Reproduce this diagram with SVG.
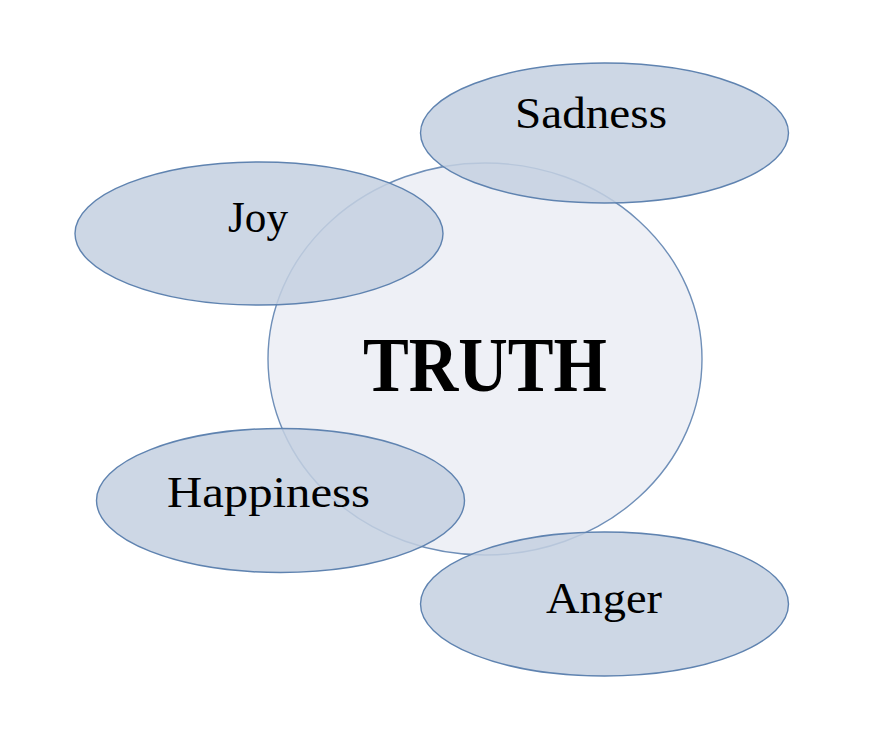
<svg xmlns="http://www.w3.org/2000/svg" width="891" height="741" viewBox="0 0 891 741">
<style>
.ov{fill:#c4d0e1;fill-opacity:0.85;stroke:#5f83b0;stroke-width:1.4}
.lbl{font-family:"Liberation Serif","DejaVu Serif",serif;font-size:45px;fill:#000;text-anchor:start}
</style>
<rect width="891" height="741" fill="#ffffff"/>
<g id="truth">
<ellipse cx="485" cy="359" rx="217" ry="196" fill="#eef0f6" stroke="#6f8fb8" stroke-width="1.4"/>
<text x="363" y="391" font-family="'Liberation Serif','DejaVu Serif',serif" font-size="78" font-weight="bold" textLength="244" lengthAdjust="spacingAndGlyphs">TRUTH</text>
</g>
<g id="sadness">
<ellipse class="ov" cx="604.5" cy="133" rx="184" ry="70"/>
<text class="lbl" x="515" y="128" textLength="152" lengthAdjust="spacingAndGlyphs">Sadness</text>
</g>
<g id="joy">
<ellipse class="ov" cx="259" cy="233.5" rx="184" ry="71.5"/>
<text class="lbl" x="228" y="232" textLength="60" lengthAdjust="spacingAndGlyphs">Joy</text>
</g>
<g id="happiness">
<ellipse class="ov" cx="280.5" cy="500.5" rx="184" ry="72"/>
<text class="lbl" x="167" y="507" textLength="203" lengthAdjust="spacingAndGlyphs">Happiness</text>
</g>
<g id="anger">
<ellipse class="ov" cx="604.5" cy="604" rx="184" ry="72"/>
<text class="lbl" x="546" y="613" textLength="116" lengthAdjust="spacingAndGlyphs">Anger</text>
</g>
<g id="connectors"></g>
</svg>
